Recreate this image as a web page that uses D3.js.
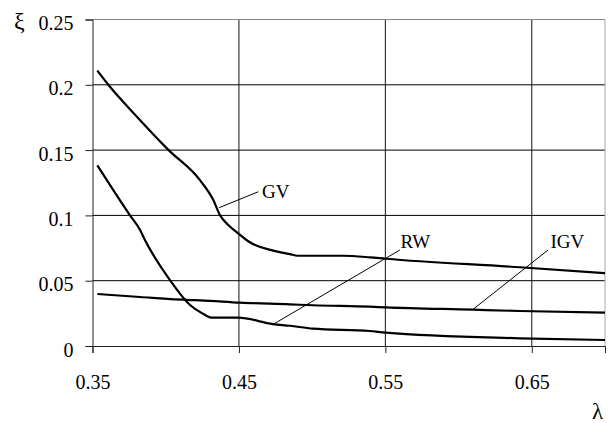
<!DOCTYPE html>
<html><head><meta charset="utf-8">
<script src="https://cdn.jsdelivr.net/npm/d3@7"></script>
<style>body{margin:0;background:#fff}svg{display:block}</style>
</head><body><svg id="c" width="609" height="423" font-family="Liberation Serif"></svg>
<script>
const xTicks = [0.35, 0.45, 0.55, 0.65];
const yTicks = [0, 0.05, 0.1, 0.15, 0.2, 0.25];
const yTickLabels = ["0", "0.05", "0.1", "0.15", "0.2", "0.25"];
const xTickLabels = ["0.35", "0.45", "0.55", "0.65"];

const gvLambda = [0.3533,0.3608,0.38,0.402,0.4234,0.4325,0.437,0.4427,0.4495,0.4575,0.4734,0.4848,0.49,0.521,0.5394,0.5503,0.6418,0.70];
const gvXi     = [0.2108,0.2,0.176,0.15,0.127,0.1118,0.1003,0.0926,0.0863,0.0794,0.073,0.0704,0.0691,0.0691,0.0679,0.0668,0.0603,0.0557];

const rwLambda = [0.3533,0.3756,0.3825,0.3858,0.4029,0.4166,0.425,0.4314,0.4495,0.4732,0.4848,0.5005,0.5394,0.5503,0.6418,0.70];
const rwXi     = [0.1383,0.1,0.0888,0.0812,0.0505,0.0314,0.025,0.0217,0.0217,0.0168,0.0155,0.0133,0.0115,0.0102,0.0059,0.0046];

const igvLambda = [0.3533,0.3824,0.4166,0.4234,0.4507,0.4848,0.5005,0.5394,0.5503,0.61,0.6418,0.70];
const igvXi     = [0.0398,0.0375,0.0352,0.0350,0.0332,0.0319,0.0312,0.0301,0.0296,0.0278,0.0268,0.0255];

const labels = [
  {name:"GV",  from:[0.4365,0.1059], to:[0.4632,0.1181], at:[0.4657,0.1133]},
  {name:"RW",  from:[0.4734,0.0166], to:[0.5599,0.0735], at:[0.5604,0.0748]},
  {name:"IGV", from:[0.6099,0.0281], to:[0.6611,0.0735], at:[0.6628,0.0748]}
];

const FONT = "Liberation Serif";
const svg = d3.select("#c");
const x = d3.scaleLinear().domain([0.35, 0.70]).range([92.5, 605]);
const y = d3.scaleLinear().domain([0, 0.25]).range([346, 19.5]);

// grid
svg.append("g").selectAll("line").data(yTicks.slice(1, -1)).join("line")
  .attr("x1", x(0.35)).attr("x2", x(0.70)).attr("y1", d => y(d)).attr("y2", d => y(d))
  .attr("stroke", "#000").attr("stroke-width", 1);
svg.append("g").selectAll("line").data(xTicks.slice(1)).join("line")
  .attr("y1", y(0)).attr("y2", y(0.25)).attr("x1", d => x(d)).attr("x2", d => x(d))
  .attr("stroke", "#111").attr("stroke-width", 1);
// frame top/right
svg.append("line").attr("x1", x(0.35)).attr("x2", x(0.70)).attr("y1", y(0.25)).attr("y2", y(0.25)).attr("stroke", "#888");
svg.append("line").attr("x1", x(0.70)).attr("x2", x(0.70)).attr("y1", y(0)).attr("y2", y(0.25)).attr("stroke", "#aaa");

// axes
const yAxis = d3.axisLeft(y).tickValues(yTicks).tickFormat((d, i) => yTickLabels[i]).tickSize(7).tickPadding(12);
const gy = svg.append("g").attr("transform", `translate(${x(0.35)},0)`).call(yAxis);
const xAxis = d3.axisBottom(x).tickValues(xTicks).tickFormat((d, i) => xTickLabels[i]).tickSize(7).tickPadding(22);
const gx = svg.append("g").attr("transform", `translate(0,${y(0)})`).call(xAxis);
[gx, gy].forEach(g => {
  g.attr("font-family", FONT).attr("font-size", 20);
  g.select(".domain").attr("stroke", "#222").attr("stroke-width", 1);
  g.selectAll(".tick line").attr("stroke", "#222");
  g.selectAll("text").attr("font-family", FONT).attr("font-size", 20).attr("fill", "#000");
});
gy.selectAll("text").attr("dy", "0.5em");
gx.selectAll("text").attr("dy", "0.71em");

// curves
const line = d3.line().x(d => x(d[0])).y(d => y(d[1])).curve(d3.curveMonotoneX);
[[gvLambda, gvXi], [rwLambda, rwXi], [igvLambda, igvXi]].forEach(([L, Xi]) => {
  svg.append("path").datum(L.map((l, i) => [l, Xi[i]])).attr("d", line)
    .attr("fill", "none").attr("stroke", "#000").attr("stroke-width", 2.2).attr("stroke-linejoin", "round");
});

// labels
labels.forEach(lb => {
  svg.append("line").attr("x1", x(lb.from[0])).attr("y1", y(lb.from[1]))
    .attr("x2", x(lb.to[0])).attr("y2", y(lb.to[1])).attr("stroke", "#000").attr("stroke-width", 1);
  svg.append("text").attr("x", x(lb.at[0])).attr("y", y(lb.at[1]))
    .attr("font-family", FONT).attr("font-size", 19).text(lb.name);
});

// axis titles
svg.append("text").attr("x", 14).attr("y", 29).attr("font-family", FONT).attr("font-size", 24).text("ξ");
svg.append("text").attr("x", 592).attr("y", 419).attr("font-family", FONT).attr("font-size", 23).text("λ");
</script></body></html>
